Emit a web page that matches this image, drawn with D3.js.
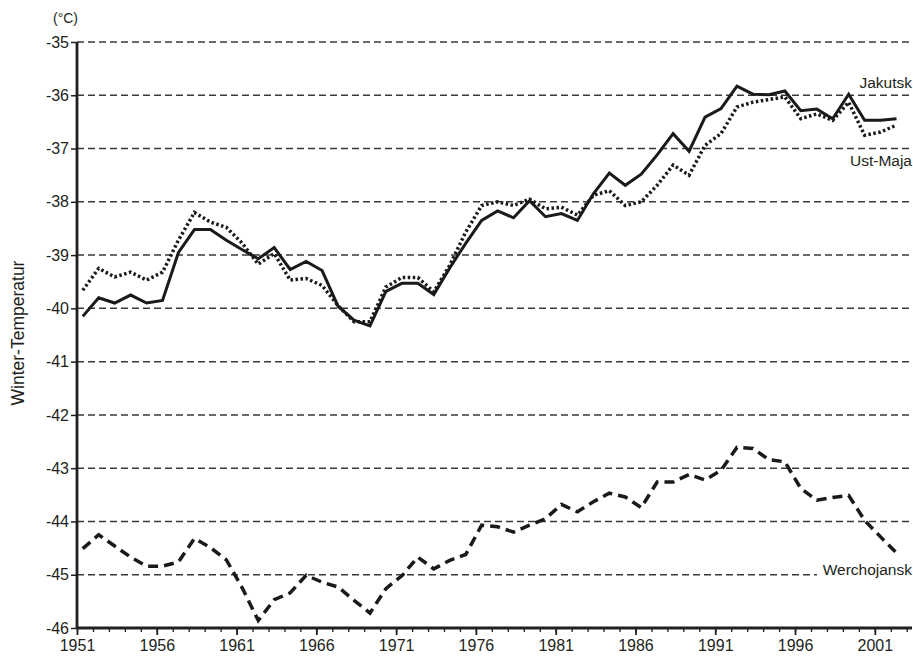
<!DOCTYPE html>
<html>
<head>
<meta charset="utf-8">
<script src="https://cdn.jsdelivr.net/npm/d3@7"></script>
<style>
  body { margin: 0; background: #fff; }
  text { font-family: "Liberation Sans", Arial, sans-serif; fill: #231f20; }
</style>
</head>
<body>
<div id="chart"></div>
<script>
// winter temperature data
var years = d3.range(1951, 2003);

var jakutsk = [
  -40.15, -39.8, -39.9, -39.75, -39.9, -39.85, -38.95, -38.52, -38.52, -38.72,
  -38.9, -39.07, -38.86, -39.27, -39.12, -39.29, -39.96, -40.22, -40.33, -39.68,
  -39.53, -39.53, -39.74, -39.24, -38.78, -38.35, -38.17, -38.3, -37.98, -38.28,
  -38.22, -38.35, -37.85, -37.46, -37.69, -37.48, -37.12, -36.72, -37.05, -36.41,
  -36.25, -35.83, -35.98, -35.99, -35.92, -36.29, -36.26, -36.44, -35.98, -36.47,
  -36.47, -36.44
];

var ustMaja = [
  -39.66, -39.25, -39.41, -39.32, -39.47, -39.32, -38.72, -38.2, -38.38, -38.48,
  -38.78, -39.17, -38.97, -39.47, -39.44, -39.57, -39.95, -40.25, -40.25, -39.6,
  -39.42, -39.42, -39.69, -39.19, -38.57, -38.07, -38.0, -38.07, -37.95, -38.13,
  -38.1, -38.25, -37.88, -37.79, -38.07, -38.0, -37.69, -37.31, -37.5, -36.94,
  -36.72, -36.22, -36.13, -36.08, -36.03, -36.44, -36.35, -36.47, -36.13, -36.75,
  -36.69, -36.56
];

var werchojansk = [
  -44.51, -44.25, -44.46, -44.67, -44.84, -44.84, -44.76, -44.32, -44.49, -44.72,
  -45.25, -45.86, -45.47, -45.34, -45.01, -45.14, -45.23, -45.48, -45.72, -45.26,
  -45.02, -44.67, -44.89, -44.73, -44.62, -44.07, -44.1, -44.2, -44.07, -43.95,
  -43.68, -43.82, -43.63, -43.47, -43.54, -43.74, -43.26, -43.26, -43.12, -43.22,
  -43.04, -42.61, -42.63, -42.84, -42.88, -43.38, -43.6, -43.55, -43.51, -43.98,
  -44.29, -44.59
];

var yTicks = d3.range(-46, -34, 1);
var xLabelYears = d3.range(1951, 2002, 5);

var svgWidth = 913;
var svgHeight = 659;

var margin = { top: 42, right: 1, bottom: 31, left: 77 };

var width = svgWidth - margin.left - margin.right;
var height = svgHeight - margin.top - margin.bottom;

var svg = d3.select("#chart")
  .append("svg")
  .attr("width", svgWidth)
  .attr("height", svgHeight);

var chartGroup = svg.append("g")
  .attr("transform", `translate(${margin.left}, ${margin.top})`);

// scales
var xScale = d3.scaleLinear()
  .domain([1951, 2003.33])
  .range([0, width]);

var yScale = d3.scaleLinear()
  .domain([-46, -35])
  .range([height, 0]);

// points sit a bit right of the year tick
var xOffset = 0.36;

// dashed gridlines
chartGroup.append("g")
  .selectAll("line")
  .data(yTicks.filter(d => d > -46))
  .enter()
  .append("line")
  .attr("x1", 0)
  .attr("x2", width)
  .attr("y1", d => yScale(d))
  .attr("y2", d => yScale(d))
  .attr("stroke", "#3a3a3a")
  .attr("stroke-width", 1.5)
  .attr("stroke-dasharray", "7,4");

// y axis
var leftAxis = d3.axisLeft(yScale)
  .tickValues(yTicks)
  .tickSize(6)
  .tickPadding(2)
  .tickFormat(d => d);

var yAxis = chartGroup.append("g")
  .call(leftAxis);

yAxis.select(".domain")
  .attr("stroke", "#231f20")
  .attr("stroke-width", 2.8)
  .attr("d", `M0,0V${height}`);

yAxis.selectAll(".tick line")
  .attr("stroke", "#231f20")
  .attr("stroke-width", 1.5);

yAxis.selectAll(".tick text")
  .style("font-size", "16px")
  .style("font-family", "Liberation Sans, Arial, sans-serif")
  .attr("fill", "#231f20");

// x axis: minor ticks every year, labels every 5 years
var minorAxis = d3.axisBottom(xScale)
  .tickValues(d3.range(1951, 2004))
  .tickSize(4)
  .tickFormat("");

var xMinor = chartGroup.append("g")
  .attr("transform", `translate(0, ${height})`)
  .call(minorAxis);

xMinor.select(".domain").remove();
xMinor.selectAll(".tick line")
  .attr("stroke", "#231f20")
  .attr("stroke-width", 1.3);

var bottomAxis = d3.axisBottom(xScale)
  .tickValues(xLabelYears)
  .tickSize(7)
  .tickPadding(5)
  .tickFormat(d3.format("d"));

var xAxis = chartGroup.append("g")
  .attr("transform", `translate(0, ${height})`)
  .call(bottomAxis);

xAxis.select(".domain")
  .attr("stroke", "#231f20")
  .attr("stroke-width", 2.8)
  .attr("d", `M0,0H${width}`);

xAxis.selectAll(".tick line")
  .attr("stroke", "#231f20")
  .attr("stroke-width", 1.8);

xAxis.selectAll(".tick text")
  .style("font-size", "16px")
  .style("font-family", "Liberation Sans, Arial, sans-serif")
  .attr("fill", "#231f20");

// lines
var series = [
  { name: "Jakutsk", values: jakutsk, dash: null, width: 3 },
  { name: "Ust-Maja", values: ustMaja, dash: "2.5,2.5", width: 3.5 },
  { name: "Werchojansk", values: werchojansk, dash: "10,6", width: 3.5 }
];

var line = d3.line()
  .x((d, i) => xScale(years[i] + xOffset))
  .y(d => yScale(d));

chartGroup.selectAll(".series")
  .data(series)
  .enter()
  .append("path")
  .attr("class", "series")
  .attr("d", d => line(d.values))
  .attr("fill", "none")
  .attr("stroke", "#1a1a1a")
  .attr("stroke-width", d => d.width)
  .attr("stroke-linejoin", "miter")
  .attr("stroke-dasharray", d => d.dash);

// series labels
chartGroup.append("text")
  .attr("x", width)
  .attr("y", yScale(-35.87))
  .attr("text-anchor", "end")
  .style("font-size", "15.5px")
  .text("Jakutsk");

chartGroup.append("text")
  .attr("x", width)
  .attr("y", yScale(-37.32))
  .attr("text-anchor", "end")
  .style("font-size", "15.5px")
  .text("Ust-Maja");

// white box under the Werchojansk label cuts the gridline
chartGroup.append("rect")
  .attr("x", width - 95)
  .attr("y", yScale(-44.78))
  .attr("width", 95)
  .attr("height", 16)
  .attr("fill", "#fff");

chartGroup.append("text")
  .attr("x", width)
  .attr("y", yScale(-45.01))
  .attr("text-anchor", "end")
  .style("font-size", "15.5px")
  .text("Werchojansk");

// axis titles
svg.append("text")
  .attr("transform", "rotate(-90)")
  .attr("x", -333)
  .attr("y", 24)
  .attr("text-anchor", "middle")
  .style("font-size", "17.5px")
  .text("Winter-Temperatur");

svg.append("text")
  .attr("x", 53)
  .attr("y", 23)
  .style("font-size", "14px")
  .text("(°C)");
</script>
</body>
</html>
